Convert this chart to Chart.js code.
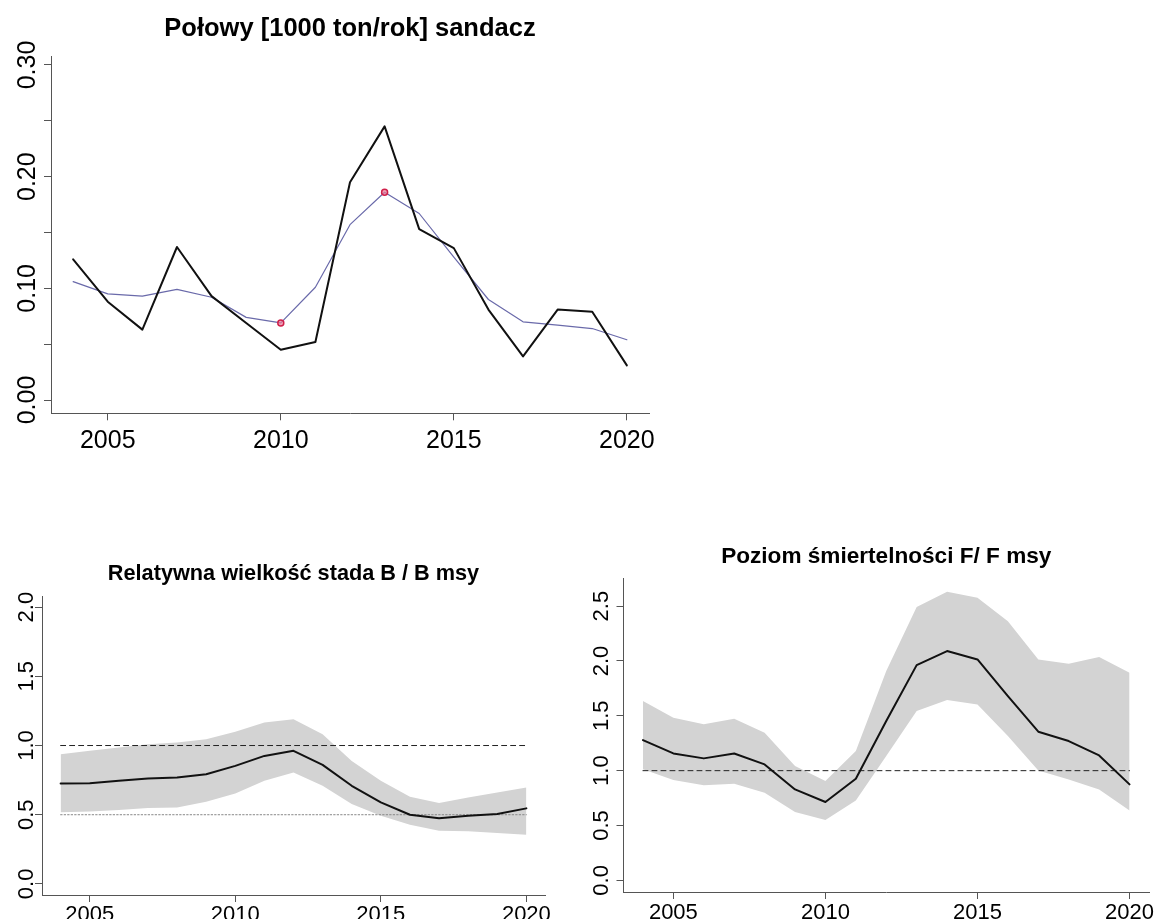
<!DOCTYPE html>
<html><head><meta charset="utf-8">
<script src="https://cdn.jsdelivr.net/npm/chart.js@4.4.1/dist/chart.umd.min.js"></script>
<style>
html,body{margin:0;padding:0;background:#fff;width:1154px;height:919px;overflow:hidden}
canvas{position:absolute}
</style></head><body>
<canvas id="c1" width="660" height="460" style="left:0;top:0"></canvas>
<canvas id="c2" width="570" height="399" style="left:0;top:520px"></canvas>
<canvas id="c3" width="584" height="399" style="left:570px;top:520px"></canvas>
<script>
// ---------- data ----------
const years = [2004,2005,2006,2007,2008,2009,2010,2011,2012,2013,2014,2015,2016,2017,2018,2019,2020];
const catches    = [0.126,0.088,0.063,0.137,0.093,0.069,0.045,0.052,0.195,0.245,0.153,0.136,0.081,0.039,0.081,0.079,0.031];
const catchTrend = [0.106,0.095,0.093,0.099,0.092,0.074,0.069,0.101,0.157,0.186,0.167,0.128,0.090,0.070,0.067,0.064,0.054];
const trendMarkYears = [2010, 2013];

const bMedian = [0.726,0.728,0.745,0.762,0.769,0.793,0.853,0.925,0.962,0.860,0.709,0.589,0.500,0.474,0.493,0.505,0.546];
const bUpper  = [0.937,0.962,0.986,1.010,1.022,1.046,1.100,1.166,1.190,1.082,0.889,0.745,0.630,0.584,0.625,0.661,0.697];
const bLower  = [0.517,0.524,0.534,0.548,0.553,0.594,0.654,0.745,0.805,0.709,0.577,0.493,0.428,0.385,0.380,0.368,0.356];
const bRefDashed = 1.0;
const bRefDotted = 0.5;

const fMedian = [1.279,1.157,1.112,1.157,1.057,0.829,0.714,0.926,1.452,1.962,2.090,2.014,1.680,1.355,1.270,1.139,0.875];
const fUpper  = [1.634,1.482,1.422,1.473,1.346,1.042,0.905,1.179,1.908,2.491,2.631,2.576,2.363,2.014,1.974,2.035,1.892];
const fLower  = [1.012,0.914,0.866,0.881,0.799,0.623,0.550,0.729,1.133,1.543,1.643,1.604,1.315,1.002,0.920,0.829,0.638];
const fRefDashed = 1.0;

const xTickValues = [2005, 2010, 2015, 2020];
const catchYTicks  = [0, 0.05, 0.10, 0.15, 0.20, 0.25, 0.30];
const catchYLabels = ['0.00', '', '0.10', '', '0.20', '', '0.30'];
const bYTicks  = [0, 0.5, 1.0, 1.5, 2.0];
const bYLabels = ['0.0', '0.5', '1.0', '1.5', '2.0'];
const fYTicks  = [0, 0.5, 1.0, 1.5, 2.0, 2.5];
const fYLabels = ['0.0', '0.5', '1.0', '1.5', '2.0', '2.5'];

const titles = {
  catch: 'Połowy [1000 ton/rok] sandacz',
  b: 'Relatywna wielkość stada B / B msy',
  f: 'Poziom śmiertelności F/ F msy'
};

// ---------- helpers ----------
const FONT = '"Liberation Sans", Arial, Helvetica, sans-serif';
const pts = (xs, ys) => xs.map((x, i) => ({x: x, y: ys[i]}));
const hline = (v) => [{x: years[0], y: v}, {x: years[years.length - 1], y: v}];
const AXIS = '#555';

const rotYLabels = {
  id: 'rotYLabels',
  afterDraw(chart, args, opts) {
    const s = chart.scales.y, ctx = chart.ctx;
    ctx.save();
    ctx.font = opts.size + 'px ' + FONT;
    ctx.fillStyle = '#000';
    ctx.textAlign = 'center';
    ctx.textBaseline = 'alphabetic';
    opts.ticks.forEach((v, i) => {
      const lab = opts.labels[i];
      if (!lab) return;
      const py = s.getPixelForValue(v);
      ctx.save();
      ctx.translate(s.right - opts.gap, py);
      ctx.rotate(-Math.PI / 2);
      ctx.fillText(lab, 0, 0);
      ctx.restore();
    });
    ctx.restore();
  }
};

function makeChart(id, c) {
  return new Chart(document.getElementById(id), {
    type: 'line',
    data: { datasets: c.datasets },
    options: {
      responsive: false, animation: false, devicePixelRatio: 1,
      layout: { padding: { left: 0, right: c.padRight, top: 0, bottom: 0 } },
      elements: { line: { tension: 0, borderJoinStyle: 'round', borderCapStyle: 'round' } },
      plugins: {
        legend: { display: false },
        tooltip: { enabled: false },
        title: {
          display: true, text: c.title, fullSize: false, color: '#000',
          font: { family: FONT, size: c.titleSize, weight: 'bold', lineHeight: 1.2 },
          padding: { top: c.titleTop, bottom: c.titleBottom }
        },
        rotYLabels: { ticks: c.yTicks, labels: c.yLabels, size: c.tickSize, gap: c.yGap }
      },
      scales: {
        x: {
          type: 'linear', min: 2003.36, max: 2020.64,
          afterBuildTicks: s => { s.ticks = xTickValues.map(v => ({value: v})); },
          afterFit: s => { s.height = c.xAxisHeight; s.paddingLeft = 0; s.paddingRight = 0; },
          grid: { display: true, drawOnChartArea: false, drawTicks: true, tickLength: 7, color: AXIS, lineWidth: 1 },
          border: { display: true, color: AXIS, width: 1 },
          ticks: { font: { family: FONT, size: c.tickSize }, color: '#000', padding: c.xPad,
                   maxRotation: 0, minRotation: 0, autoSkip: false, callback: v => String(v) }
        },
        y: {
          type: 'linear', min: c.yMin, max: c.yMax,
          afterBuildTicks: s => { s.ticks = c.yTicks.map(v => ({value: v})); },
          afterFit: s => { s.width = c.yAxisWidth; s.paddingTop = 0; s.paddingBottom = 0; },
          grid: { display: true, drawOnChartArea: false, drawTicks: true, tickLength: 7, color: AXIS, lineWidth: 1 },
          border: { display: true, color: AXIS, width: 1 },
          ticks: { display: false }
        }
      }
    },
    plugins: [rotYLabels]
  });
}

const noPts = { pointRadius: 0, pointHoverRadius: 0 };

// ---------- chart 1: catches ----------
makeChart('c1', {
  title: titles.catch, titleSize: 25.5, titleTop: 13.5, titleBottom: 12.6,
  padRight: 11, yAxisWidth: 51, xAxisHeight: 46.7, xPad: 5.6, tickSize: 25, yGap: 16,
  yMin: -0.0119, yMax: 0.3074, yTicks: catchYTicks, yLabels: catchYLabels,
  datasets: [
    Object.assign({ data: pts(years, catches), borderColor: '#111', borderWidth: 2, fill: false }, noPts),
    { data: pts(trendMarkYears, trendMarkYears.map(y => catchTrend[years.indexOf(y)])), showLine: false,
      pointRadius: 3, pointStyle: 'circle', borderWidth: 1.5, pointBorderColor: '#d0204a', pointBackgroundColor: 'rgba(235,120,150,0.7)' },
    Object.assign({ data: pts(years, catchTrend), borderColor: '#6a6aaa', borderWidth: 1.2, fill: false }, noPts)
  ]
});

// ---------- chart 2: B/Bmsy ----------
makeChart('c2', {
  title: titles.b, titleSize: 21.7, titleTop: 41, titleBottom: 9,
  padRight: 25, yAxisWidth: 42, xAxisHeight: 24, xPad: 0, tickSize: 22, yGap: 9,
  yMin: -0.08, yMax: 2.08, yTicks: bYTicks, yLabels: bYLabels,
  datasets: [
    Object.assign({ data: pts(years, bMedian), borderColor: '#111', borderWidth: 2, fill: false }, noPts),
    Object.assign({ data: hline(bRefDashed), borderColor: '#222', borderWidth: 1, borderDash: [5, 4], fill: false }, noPts),
    Object.assign({ data: hline(bRefDotted), borderColor: '#888', borderWidth: 1, borderDash: [1.5, 2], fill: false }, noPts),
    Object.assign({ data: pts(years, bUpper), borderWidth: 0, borderColor: 'rgba(0,0,0,0)', backgroundColor: '#d3d3d3', fill: '+1' }, noPts),
    Object.assign({ data: pts(years, bLower), borderWidth: 0, borderColor: 'rgba(0,0,0,0)', fill: false }, noPts)
  ]
});

// ---------- chart 3: F/Fmsy ----------
makeChart('c3', {
  title: titles.f, titleSize: 22.6, titleTop: 23.4, titleBottom: 7.5,
  padRight: 5, yAxisWidth: 53.5, xAxisHeight: 27, xPad: 0.8, tickSize: 22, yGap: 16,
  yMin: -0.106, yMax: 2.756, yTicks: fYTicks, yLabels: fYLabels,
  datasets: [
    Object.assign({ data: pts(years, fMedian), borderColor: '#111', borderWidth: 2, fill: false }, noPts),
    Object.assign({ data: hline(fRefDashed), borderColor: '#222', borderWidth: 1, borderDash: [5, 4], fill: false }, noPts),
    Object.assign({ data: pts(years, fUpper), borderWidth: 0, borderColor: 'rgba(0,0,0,0)', backgroundColor: '#d3d3d3', fill: '+1' }, noPts),
    Object.assign({ data: pts(years, fLower), borderWidth: 0, borderColor: 'rgba(0,0,0,0)', fill: false }, noPts)
  ]
});
</script>
</body></html>
